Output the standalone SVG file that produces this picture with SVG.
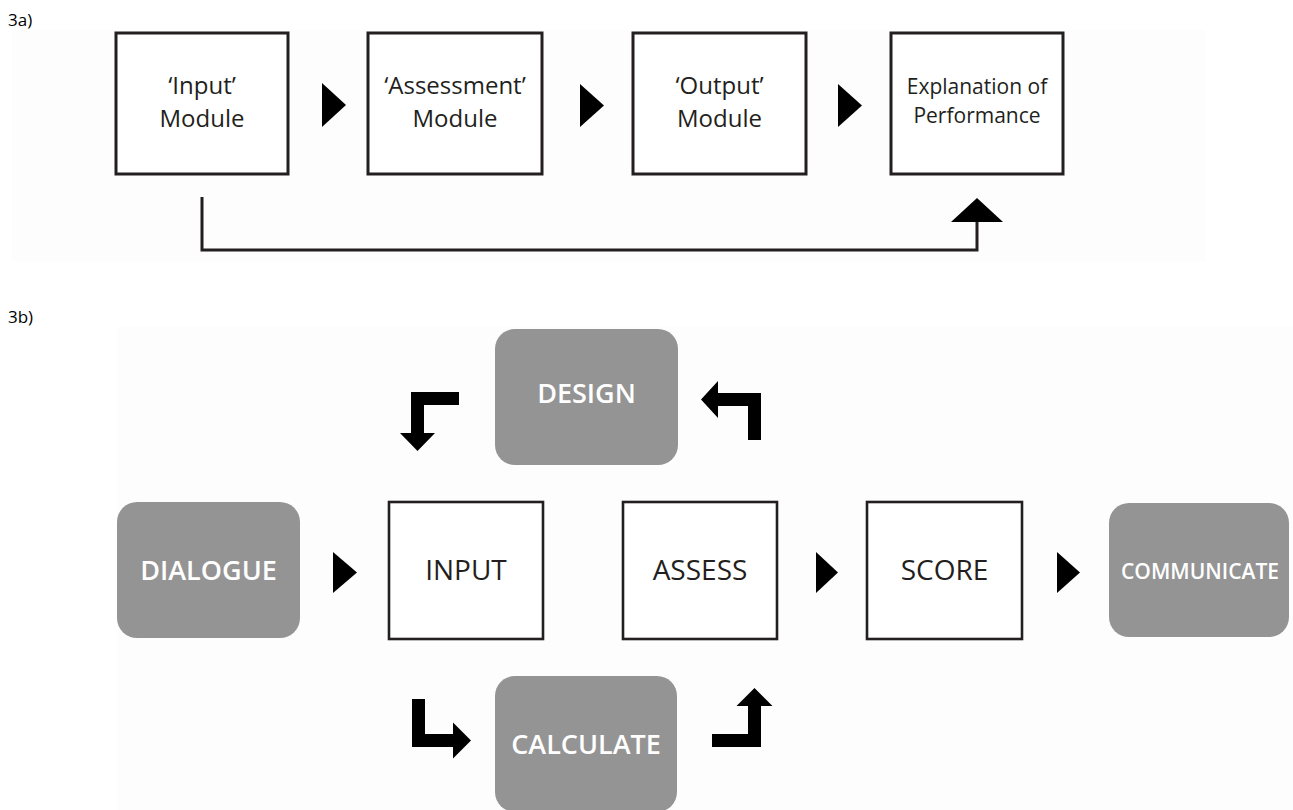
<svg xmlns="http://www.w3.org/2000/svg" width="1293" height="810" viewBox="0 0 1293 810">
<style>
.bg{fill:#fdfdfd}
.box{fill:#ffffff;stroke:#231f20;stroke-width:3}
.box2{fill:#ffffff;stroke:#231f20;stroke-width:2.6}
.gbox{fill:#949494}
.t{font-family:"Open Sans","Noto Sans",sans-serif;fill:#231f20;text-anchor:middle}
.m{font-size:24px}
.e{font-size:21px}
.b{font-size:28px}
.w{font-family:"Open Sans","Noto Sans",sans-serif;fill:#ffffff;font-weight:600;font-size:27px;text-anchor:middle}
.lbl{font-family:"Open Sans","Noto Sans",sans-serif;font-size:17px;fill:#000}
.arr{fill:#000}
.ln{fill:none;stroke:#231f20;stroke-width:3}
</style>
<rect x="0" y="0" width="1293" height="810" fill="#ffffff"/>
<rect class="bg" x="12" y="30" width="1193" height="232"/>
<rect class="bg" x="117" y="327" width="1176" height="483"/>
<text class="lbl" x="8" y="26">3a)</text>
<text class="lbl" x="8" y="323">3b)</text>

<g id="input-module">
<rect class="box" x="116" y="33" width="172" height="141"/>
<text class="t m" x="202" y="94">‘Input’</text>
<text class="t m" x="202" y="127">Module</text>
</g>
<g id="assessment-module">
<rect class="box" x="368" y="33" width="174" height="141"/>
<text class="t m" x="455" y="94">‘Assessment’</text>
<text class="t m" x="455" y="127">Module</text>
</g>
<g id="output-module">
<rect class="box" x="633" y="33" width="173" height="141"/>
<text class="t m" x="719.5" y="94">‘Output’</text>
<text class="t m" x="719.5" y="127">Module</text>
</g>
<g id="explanation">
<rect class="box" x="891" y="33" width="172" height="141"/>
<text class="t e" x="977" y="94">Explanation of</text>
<text class="t e" x="977" y="123">Performance</text>
</g>

<g id="design">
<rect class="gbox" x="495" y="329" width="183" height="136" rx="20"/>
<text class="w" x="586.5" y="403">DESIGN</text>
</g>
<g id="dialogue">
<rect class="gbox" x="117" y="502" width="183" height="136" rx="20"/>
<text class="w" x="208.5" y="580">DIALOGUE</text>
</g>
<g id="input">
<rect class="box2" x="389" y="502" width="154" height="137"/>
<text class="t b" x="466" y="580">INPUT</text>
</g>
<g id="assess">
<rect class="box2" x="623" y="502" width="154" height="137"/>
<text class="t b" x="700" y="580">ASSESS</text>
</g>
<g id="score">
<rect class="box2" x="867" y="502" width="155" height="137"/>
<text class="t b" x="944.5" y="580">SCORE</text>
</g>
<g id="communicate">
<rect class="gbox" x="1109" y="503" width="180" height="134" rx="20"/>
<text class="w" x="1200" y="579" style="font-size:22px" textLength="158" lengthAdjust="spacingAndGlyphs">COMMUNICATE</text>
</g>
<g id="calculate">
<rect class="gbox" x="495" y="676" width="182" height="136" rx="20"/>
<text class="w" x="586" y="754">CALCULATE</text>
</g>

<g id="connectors">
<polygon class="arr" points="322,83 346,105 322,127"/>
<polygon class="arr" points="580,84 604,105.5 580,127"/>
<polygon class="arr" points="838,84 862,105.5 838,127"/>
<path class="ln" d="M202,197 V250 H977 V220"/>
<polygon class="arr" points="951,222 977,198 1003,222"/>

<polygon class="arr" points="333,552 357,572.5 333,593"/>
<polygon class="arr" points="816,552 838,572.5 816,593"/>
<polygon class="arr" points="1057,552 1080,572.5 1057,593"/>

<path class="arr" d="M459,392 L411,392 L411,433 L400,433 L417.5,451 L435,433 L424,433 L424,405 L459,405 Z"/>
<path class="arr" d="M761,440 L761,393 L718,393 L718,381 L701,399.5 L718,418 L718,406 L748,406 L748,440 Z"/>
<path class="arr" d="M412,699 L425,699 L425,734 L453,734 L453,722.5 L471,740.5 L453,758.5 L453,747 L412,747 Z"/>
<path class="arr" d="M712,747 L761,747 L761,706 L772.5,706 L754.5,688 L736.5,706 L748,706 L748,734 L712,734 Z"/>
</g>
</svg>
